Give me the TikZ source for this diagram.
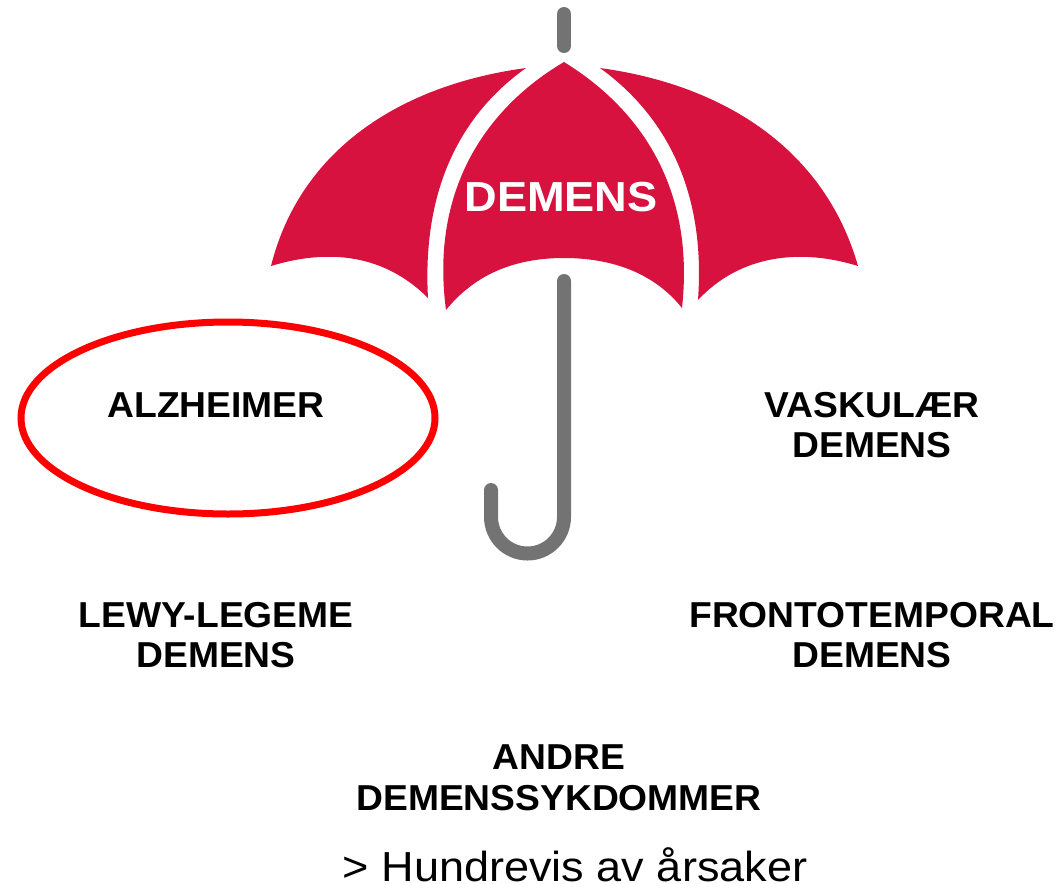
\documentclass[tikz,border=0pt]{standalone}
\usepackage{fontspec}
\setmainfont{Liberation Sans}
\definecolor{umbrellared}{HTML}{D7123F}
\definecolor{handlegrey}{HTML}{737373}
\tikzset{
	typelabel/.style={font=\bfseries\fontsize{34}{38.5}\selectfont, align=center, text=black, xscale=1.095, yscale=1.06, transform shape},
	panel/.style={fill=umbrellared, draw=none},
	handle/.style={draw=handlegrey, line width=14pt, line cap=round}
}
\begin{document}
\begin{tikzpicture}[x=1pt, y=-1pt]
		\useasboundingbox (0,0) rectangle (1061,884);
		%draw canopy
		\path [panel] (526,68) .. controls (400,85) and (300,150) .. (271,266)
		.. controls (330,248) and (385,255) .. (428,298)
		.. controls (422,190) and (460,115) .. (526,68) -- cycle;
		\path [panel] (564,62) .. controls (486,108) and (430,190) .. (446,310)
		.. controls (480,268) and (525,258) .. (564,258)
		.. controls (603,258) and (650,268) .. (682,308)
		.. controls (695,190) and (642,110) .. (564,62) -- cycle;
		\path [panel] (600,68) .. controls (725,85) and (825,150) .. (858,266)
		.. controls (800,248) and (740,255) .. (698,300)
		.. controls (706,190) and (665,115) .. (600,68) -- cycle;
		%draw handle
		\draw [handle] (564,14) -- (564,46);
		\coordinate (handletop) at (564,281);
		\coordinate (handleend) at (491,490);
		\draw [handle] (handletop) -- (564,517) arc[start angle=0, end angle=180, x radius=36.5, y radius=36.5] -- (handleend);
		%draw ellipse
		\draw [red, line width=7pt] (228,418) ellipse [x radius=207, y radius=96];
		%draw labels
		\node (demens) at (561,197) [font=\bfseries\fontsize{42}{46}\selectfont, text=white, xscale=1.075, transform shape] {DEMENS};
		\node (alzheimer) at (216,405) [typelabel] {ALZHEIMER};
		\node (vaskular) at (872,425) [typelabel] {VASKULÆR\\DEMENS};
		\node (lewy) at (216,635) [typelabel] {LEWY-LEGEME\\DEMENS};
		\node (fronto) at (872,635) [typelabel] {FRONTOTEMPORAL\\DEMENS};
		\node (andre) at (559,778) [typelabel] {ANDRE\\DEMENSSYKDOMMER};
		\node (causes) at (575,865) [font=\fontsize{42}{46}\selectfont, xscale=1.073, transform shape] {> Hundrevis av årsaker};
	\end{tikzpicture}
\end{document}
